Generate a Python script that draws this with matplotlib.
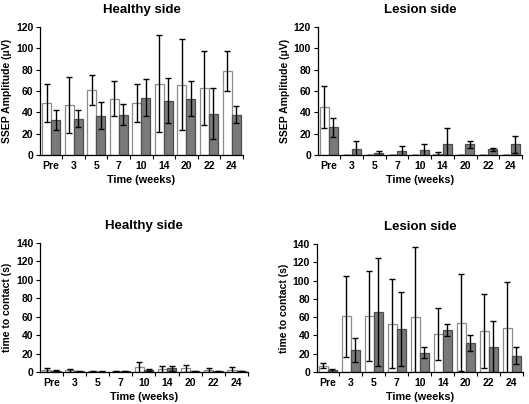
import numpy as np
import matplotlib.pyplot as plt

plt.rcParams['font.family'] = ['Liberation Sans', 'DejaVu Sans']
plt.rcParams['font.weight'] = 'bold'

# --- data ---
weeks = ['Pre', '3', '5', '7', '10', '14', '20', '22', '24']

# SSEP amplitude, healthy side
ssep_h_white = [49, 47, 61, 53, 49, 67, 66, 63, 79]
ssep_h_white_err = [17.5, 26, 14, 16.5, 17.5, 45.5, 42.5, 34.5, 18.5]
ssep_h_gray = [33, 34, 37, 38, 54, 51, 53, 39, 38]
ssep_h_gray_err = [9, 8, 12.5, 10, 17.5, 21, 16, 24, 8]

# SSEP amplitude, lesion side
ssep_l_white = [45, 0, 0, 0, 0, 1, 0, 0, 0]
ssep_l_white_err = [19.5, 0, 0, 0, 0, 2, 0, 0, 0]
ssep_l_gray = [26, 6, 2, 4, 5, 10.5, 10, 5.5, 10]
ssep_l_gray_err = [9, 7, 2, 5, 5.5, 14.5, 3, 1.5, 8]

# time to contact, healthy side
ttc_h_white = [2, 2, 1, 1, 5, 3, 4, 2, 2]
ttc_h_white_err = [2, 1.5, 0.5, 0.5, 6, 4, 4, 2, 3]
ttc_h_gray = [1.5, 1, 0.5, 1, 2, 4, 1, 1, 1]
ttc_h_gray_err = [0.5, 0.5, 0.3, 0.5, 1, 3, 0.5, 0.5, 0.3]

# time to contact, lesion side
ttc_l_white = [7, 61, 61, 53, 60, 42, 54, 45, 48]
ttc_l_white_err = [2.5, 44, 49, 48.5, 77, 28.5, 53, 40.5, 50]
ttc_l_gray = [2, 24, 66, 47, 21, 46, 32, 27, 18]
ttc_l_gray_err = [1.5, 13, 59, 40.5, 6, 6.5, 9, 28.5, 9]


def draw_panel(ax, white, white_err, gray, gray_err, title, ylabel, ymax, ystep):
    x = np.arange(len(weeks))
    w = 0.4
    ekw = dict(elinewidth=1, capthick=1, ecolor='black')
    ax.bar(x - w / 2, white, w, color='white', edgecolor='#8c8c8c', linewidth=0.9,
           yerr=white_err, capsize=2.5, error_kw=ekw, zorder=2)
    ax.bar(x + w / 2, gray, w, color='#7a7a7a', edgecolor='#4d4d4d', linewidth=0.9,
           yerr=gray_err, capsize=2.5, error_kw=ekw, zorder=2)
    ax.set_xlim(-0.48, len(weeks) - 0.55)
    ax.set_ylim(0, ymax)
    ax.set_yticks(np.arange(0, ymax + 1, ystep))
    ax.set_xticks(x)
    ax.set_xticklabels(weeks)
    ax.set_xticks(np.arange(len(weeks)) + 0.5, minor=True)
    ax.tick_params(axis='x', which='major', length=0, labelsize=7.5, pad=4)
    ax.tick_params(axis='x', which='minor', length=3, width=0.8, direction='out')
    ax.tick_params(axis='y', length=3, width=0.8, labelsize=7.5, pad=2)
    for s in ['top', 'right']:
        ax.spines[s].set_visible(False)
    for s in ['left', 'bottom']:
        ax.spines[s].set_linewidth(0.9)
    ax.set_title(title, fontsize=9.5, fontweight='bold', pad=10)
    ax.set_xlabel('Time (weeks)', fontsize=7.8, fontweight='bold', labelpad=3)
    ax.set_ylabel(ylabel, fontsize=7.5, fontweight='bold', labelpad=3)


fig = plt.figure(figsize=(5.29, 4.04), dpi=100)
ax1 = fig.add_axes([0.076, 0.616, 0.383, 0.317])
ax2 = fig.add_axes([0.601, 0.616, 0.386, 0.317])
ax3 = fig.add_axes([0.076, 0.079, 0.393, 0.320])
ax4 = fig.add_axes([0.599, 0.079, 0.390, 0.317])

draw_panel(ax1, ssep_h_white, ssep_h_white_err, ssep_h_gray, ssep_h_gray_err,
           'Healthy side', 'SSEP Amplitude (\u03bcV)', 120, 20)
draw_panel(ax2, ssep_l_white, ssep_l_white_err, ssep_l_gray, ssep_l_gray_err,
           'Lesion side', 'SSEP Amplitude (\u03bcV)', 120, 20)
draw_panel(ax3, ttc_h_white, ttc_h_white_err, ttc_h_gray, ttc_h_gray_err,
           'Healthy side', 'time to contact (s)', 140, 20)
draw_panel(ax4, ttc_l_white, ttc_l_white_err, ttc_l_gray, ttc_l_gray_err,
           'Lesion side', 'time to contact (s)', 140, 20)

fig.savefig('out.png', dpi=100)
